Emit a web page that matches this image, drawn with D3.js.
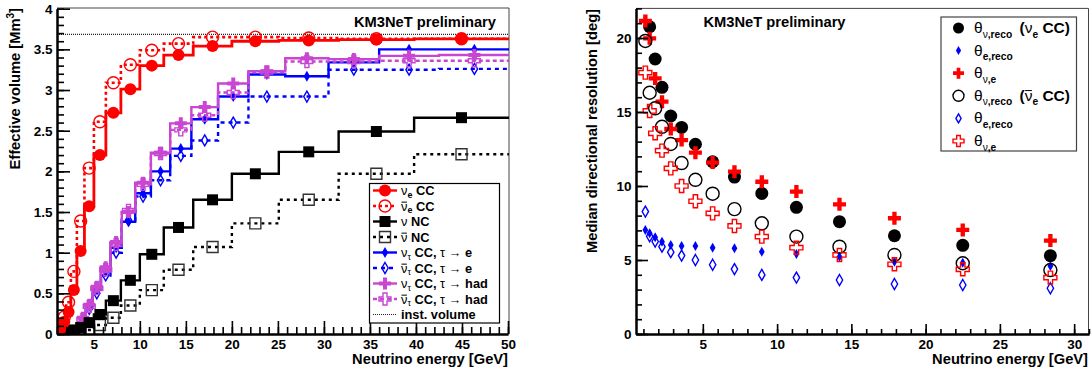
<!DOCTYPE html>
<html><head><meta charset="utf-8">
<script src="https://cdn.jsdelivr.net/npm/d3@7"></script>
<style>
body{margin:0;background:#fff}
svg{display:block}
text{font-family:"Liberation Sans",Arial,Helvetica,sans-serif;font-weight:bold;fill:#000}
</style>
</head><body>
<svg id="c" width="1091" height="370"></svg>
<script>
// ---------------- LEFT PANEL DATA (effective volume, Mm^3) ----------------
const eBinEdges = [1.00, 1.26, 1.58, 2.00, 2.51, 3.16, 3.98, 5.01, 6.31, 7.94, 10.0, 12.6, 15.8, 20.0, 25.1, 31.6, 39.8, 50.1];
const nueCC     = [0.02, 0.07, 0.15, 0.27, 0.54, 1.02, 1.57, 2.20, 2.72, 3.01, 3.30, 3.43, 3.54, 3.60, 3.61, 3.62, 3.63];
const nuebarCC  = [0.03, 0.10, 0.21, 0.39, 0.77, 1.39, 2.04, 2.61, 3.09, 3.31, 3.49, 3.57, 3.65, 3.65, 3.64, 3.63, 3.63];
const nuNC      = [0.00, 0.01, 0.02, 0.03, 0.05, 0.08, 0.14, 0.24, 0.41, 0.66, 0.98, 1.31, 1.65, 1.97, 2.24, 2.49, 2.66];
const nubarNC   = [0.00, 0.00, 0.00, 0.01, 0.01, 0.02, 0.05, 0.11, 0.20, 0.35, 0.54, 0.79, 1.07, 1.36, 1.65, 1.97, 2.21];
const tauBinEdges = [3.50, 4.13, 4.88, 5.77, 6.81, 8.04, 9.50, 11.2, 13.3, 15.6, 18.5, 21.8, 25.8, 30.5, 36.0, 42.5, 50.2];
const nutauE    = [0.18, 0.34, 0.55, 0.77, 1.06, 1.38, 1.73, 2.00, 2.28, 2.64, 2.92, 3.19, 3.17, 3.34, 3.50, 3.50];
const nutaubarE = [0.17, 0.31, 0.50, 0.72, 1.00, 1.40, 1.69, 1.89, 2.19, 2.38, 2.60, 2.92, 2.92, 3.25, 3.25, 3.26];
const nutauH    = [0.20, 0.36, 0.58, 0.82, 1.13, 1.50, 1.86, 2.23, 2.59, 2.79, 3.08, 3.23, 3.39, 3.38, 3.42, 3.43];
const nutaubarH = [0.18, 0.34, 0.56, 0.79, 1.10, 1.52, 1.84, 2.22, 2.51, 2.69, 2.97, 3.22, 3.35, 3.35, 3.36, 3.36];
const instVolume = 3.685;
const volTicksX = [5, 10, 15, 20, 25, 30, 35, 40, 45, 50];
const volTicksY = [0, 0.5, 1, 1.5, 2, 2.5, 3, 3.5, 4];

// ---------------- RIGHT PANEL DATA (median resolution, deg) ----------------
const resEnergy      = [1.13, 1.42, 1.79, 2.25, 2.84, 3.57, 4.50, 5.66, 7.13, 8.97, 11.3, 14.2, 17.9, 22.5, 28.4];
const thNuRecoNue    = [null, 20.76, 18.58, 16.67, 14.73, 13.96, 12.82, 11.64, 10.60, 9.50, 8.56, 7.59, 6.64, 5.99, 5.29];
const thERecoNue     = [7.03, 6.80, 6.53, 6.24, 6.01, 5.95, 5.95, 5.83, 5.79, 5.56, 5.41, 5.22, 4.89, 4.82, 4.59];
const thNuENue       = [21.15, 19.98, 17.27, 15.70, 13.85, 13.10, 12.25, 11.58, 10.97, 10.29, 9.62, 8.76, 7.82, 7.03, 6.31];
const thNuRecoNuebar = [19.80, 16.30, 15.25, 14.00, 12.84, 11.55, 10.42, 9.48, 8.44, 7.48, 6.58, 5.90, 5.34, 4.78, 4.32];
const thERecoNuebar  = [8.27, 6.60, 6.25, 5.90, 5.53, 5.30, 5.00, 4.68, 4.39, 3.99, 3.81, 3.65, 3.38, 3.31, 3.09];
const thNuENuebar    = [17.66, 15.07, 13.56, 12.39, 11.19, 10.00, 8.97, 8.15, 7.30, 6.58, 5.83, 5.34, 4.71, 4.37, 3.81];
const resTicksX = [5, 10, 15, 20, 25, 30];
const resTicksY = [0, 5, 10, 15, 20];

const RED = "#ff0000", BLUE = "#0000ff", MAG = "#c846d2", BLK = "#000000";
const svg = d3.select("#c");
svg.append("rect").attr("width", 1091).attr("height", 370).attr("fill", "#fff");

// marker helper
function marker(g, kind, x, y, color, sz) {
  let type, size, filled = true;
  switch (kind) {
    case "circleF": type = d3.symbolCircle; size = Math.PI * (sz/2) ** 2; break;
    case "circleO": type = d3.symbolCircle; size = Math.PI * (sz/2) ** 2; filled = false; break;
    case "squareF": type = d3.symbolSquare; size = sz * sz; break;
    case "squareO": type = d3.symbolSquare; size = sz * sz; filled = false; break;
    case "diamondF": type = d3.symbolDiamond; size = (sz/2) ** 2 * 2 * Math.tan(Math.PI/6); break;
    case "diamondO": type = d3.symbolDiamond; size = (sz/2) ** 2 * 2 * Math.tan(Math.PI/6); filled = false; break;
    case "crossF": type = d3.symbolCross; size = 20 * (sz/6) ** 2; break;
    case "crossO": type = d3.symbolCross; size = 20 * (sz/6) ** 2; filled = false; break;
  }
  const p = g.append("path").attr("d", d3.symbol(type, size)()).attr("transform", `translate(${x},${y})`);
  if (filled) p.attr("fill", color).attr("stroke", "none");
  else p.attr("fill", "none").attr("stroke", color).attr("stroke-width", 1.4);
  return p;
}

// rich text helper
function rich(g, x, y, parts, size, attrs, subShift) {
  const t = g.append("text").attr("x", x).attr("y", y).attr("font-size", size);
  if (attrs) Object.entries(attrs).forEach(([k, v]) => t.attr(k, v));
  let shift = 0;
  const ss = subShift == null ? 0.3 : subShift;
  parts.forEach(p => {
    const s = t.append("tspan").text(p.t);
    const target = p.sub ? size * ss : (p.sup ? -size * 0.38 : 0);
    if (target !== shift) { s.attr("dy", target - shift); shift = target; }
    if (p.sub || p.sup) s.attr("font-size", size * (p.scale || 0.7));
    if (p.greek) s.attr("font-weight", "normal");
  });
  return t;
}
function overlineChar(g, t, idx, size) {
  const ext = t.node().getExtentOfChar(idx);
  const yb = +t.attr("y");
  g.append("line").attr("x1", ext.x + 0.5).attr("x2", ext.x + ext.width - 0.5)
    .attr("y1", yb - size * 0.66).attr("y2", yb - size * 0.66)
    .attr("stroke", "#000").attr("stroke-width", 1);
}

// ======================= LEFT PANEL =======================
const L = { x0: 57, x1: 508, y0: 334, y1: 8.7 };
const xL = d3.scaleLinear().domain([1, 50]).range([L.x0, L.x1]);
const yL = d3.scaleLinear().domain([0, 4]).range([L.y0, L.y1]);
const gL = svg.append("g");
svg.append("clipPath").attr("id", "clipL").append("rect")
  .attr("x", L.x0).attr("y", 8).attr("width", 509 - L.x0).attr("height", L.y0 - 8);

// frame
gL.append("path").attr("d", `M${L.x0},8H509V${L.y0}`).attr("fill", "none").attr("stroke", "#444").attr("stroke-width", 1);

const plotL = gL.append("g").attr("clip-path", "url(#clipL)");
plotL.append("line").attr("x1", L.x0).attr("x2", 509).attr("y1", yL(instVolume)).attr("y2", yL(instVolume))
  .attr("stroke", "#222").attr("stroke-width", 1.2).attr("stroke-dasharray", "1,1");

function stepPath(edges, vals) {
  let d = `M${xL(edges[0])},${yL(0)}`;
  vals.forEach((v, i) => { d += `V${yL(v)}H${xL(edges[i + 1])}`; });
  return d;
}
const histSeries = [
  { edges: tauBinEdges, vals: nutaubarE, color: BLUE, dash: "4,4", mk: "diamondO", sz: 11, w: 2.4 },
  { edges: tauBinEdges, vals: nutauE, color: BLUE, dash: null, mk: "diamondF", sz: 11, w: 2.4 },
  { edges: tauBinEdges, vals: nutaubarH, color: MAG, dash: "4,3", mk: "crossO", sz: 12, w: 2.4 },
  { edges: tauBinEdges, vals: nutauH, color: MAG, dash: null, mk: "crossF", sz: 12, w: 2.4 },
  { edges: eBinEdges, vals: nubarNC, color: BLK, dash: "3,4", mk: "squareO", sz: 11, w: 2.4, mcol: "#333" },
  { edges: eBinEdges, vals: nuNC, color: BLK, dash: null, mk: "squareF", sz: 11, w: 2.4 },
  { edges: eBinEdges, vals: nuebarCC, color: RED, dash: "3,3", mk: "circleO", sz: 12, w: 2.6 },
  { edges: eBinEdges, vals: nueCC, color: RED, dash: null, mk: "circleF", sz: 12, w: 2.8 },
];
histSeries.forEach(s => {
  const p = plotL.append("path").attr("d", stepPath(s.edges, s.vals)).attr("fill", "none")
    .attr("stroke", s.color).attr("stroke-width", s.w);
  if (s.dash) p.attr("stroke-dasharray", s.dash);
  s.vals.forEach((v, i) => {
    const xc = (s.edges[i] + s.edges[i + 1]) / 2;
    marker(plotL, s.mk, xL(xc), yL(v), s.mcol || s.color, s.sz);
  });
});

// axes left
function styleAxis(g) {
  g.selectAll(".domain").attr("stroke", "#000").attr("stroke-width", 2);
  g.selectAll(".tick line").attr("stroke", "#000").attr("stroke-width", 1.6);
  g.selectAll("text").attr("font-family", '"Liberation Sans",Arial,sans-serif').attr("font-weight", "bold").attr("font-size", 13.5).attr("fill", "#000");
}
const minorLX = d3.range(1, 51);
const minorLY = d3.range(0, 41).map(d => d / 10);
gL.append("g").attr("transform", `translate(0,${L.y0})`)
  .call(d3.axisBottom(xL).tickValues(minorLX).tickSize(-7).tickSizeOuter(0).tickFormat(""))
  .call(styleAxis);
gL.append("g").attr("transform", `translate(0,${L.y0})`)
  .call(d3.axisBottom(xL).tickValues(volTicksX).tickSize(-13).tickSizeOuter(0).tickPadding(5).tickFormat(d3.format("d")))
  .call(styleAxis);
gL.append("g").attr("transform", `translate(${L.x0},0)`)
  .call(d3.axisLeft(yL).tickValues(minorLY).tickSize(-7).tickSizeOuter(0).tickFormat(""))
  .call(styleAxis);
gL.append("g").attr("transform", `translate(${L.x0},0)`)
  .call(d3.axisLeft(yL).tickValues(volTicksY).tickSize(-13).tickSizeOuter(0).tickPadding(4.5).tickFormat(d => String(d)))
  .call(styleAxis);

// titles
gL.append("text").attr("x", 508).attr("y", 364).attr("text-anchor", "end").attr("font-size", 14.7).text("Neutrino energy [GeV]");
rich(gL, 0, 0, [{ t: "Effective volume [Mm" }, { t: "3", sup: true, scale: 0.68 }, { t: "]" }], 14.7,
  { "text-anchor": "end", transform: "translate(20,8) rotate(-90)" });
gL.append("text").attr("x", 496).attr("y", 26.5).attr("text-anchor", "end").attr("font-size", 14.7).text("KM3NeT preliminary");

// legend left
const lg = gL.append("g");
lg.append("rect").attr("x", 369.5).attr("y", 183.5).attr("width", 130).attr("height", 139.5)
  .attr("fill", "#fff").attr("stroke", "#000").attr("stroke-width", 1.2);
const legL = [
  { color: RED, dash: null, mk: "circleF", parts: [{ t: "ν", greek: 1 }, { t: "e", sub: 1 }, { t: " CC" }], bar: false },
  { color: RED, dash: "3,3", mk: "circleO", parts: [{ t: "ν", greek: 1 }, { t: "e", sub: 1 }, { t: " CC" }], bar: true },
  { color: BLK, dash: null, mk: "squareF", parts: [{ t: "ν", greek: 1 }, { t: " NC" }], bar: false },
  { color: BLK, dash: "3,4", mk: "squareO", parts: [{ t: "ν", greek: 1 }, { t: " NC" }], bar: true, mcol: "#333" },
  { color: BLUE, dash: null, mk: "diamondF", parts: [{ t: "ν", greek: 1 }, { t: "τ", sub: 1, greek: 1 }, { t: " CC, " }, { t: "τ", greek: 1 }, { t: " → ", greek: 1 }, { t: "e" }], bar: false },
  { color: BLUE, dash: "4,4", mk: "diamondO", parts: [{ t: "ν", greek: 1 }, { t: "τ", sub: 1, greek: 1 }, { t: " CC, " }, { t: "τ", greek: 1 }, { t: " → ", greek: 1 }, { t: "e" }], bar: true },
  { color: MAG, dash: null, mk: "crossF", parts: [{ t: "ν", greek: 1 }, { t: "τ", sub: 1, greek: 1 }, { t: " CC, " }, { t: "τ", greek: 1 }, { t: " → ", greek: 1 }, { t: "had" }], bar: false },
  { color: MAG, dash: "4,3", mk: "crossO", parts: [{ t: "ν", greek: 1 }, { t: "τ", sub: 1, greek: 1 }, { t: " CC, " }, { t: "τ", greek: 1 }, { t: " → ", greek: 1 }, { t: "had" }], bar: true },
  { color: "#222", dash: "1,1", mk: null, parts: [{ t: "inst. volume" }], bar: false, thin: true },
];
legL.forEach((e, i) => {
  const yc = 190.5 + i * 15.5;
  const ln = lg.append("line").attr("x1", 373).attr("x2", 397).attr("y1", yc).attr("y2", yc)
    .attr("stroke", e.color).attr("stroke-width", e.thin ? 1.2 : 2.4);
  if (e.dash) ln.attr("stroke-dasharray", e.dash);
  if (e.mk) marker(lg, e.mk, 385, yc, e.mcol || e.color, e.mk.startsWith("diamond") ? 11 : (e.mk.startsWith("square") ? 11 : 12));
  const t = rich(lg, 401, yc + 4.6, e.parts, 12.8, null, 0.22);
  if (e.bar) overlineChar(lg, t, 0, 12.8);
});

// ======================= RIGHT PANEL =======================
const R = { x0: 636, x1: 1089, y0: 334, y1: 8.4 };
const xR = d3.scaleLinear().domain([0.5, 31]).range([R.x0, R.x1]);
const yR = d3.scaleLinear().domain([0, 22]).range([R.y0, R.y1]);
const gR = svg.append("g");
gR.append("path").attr("d", `M${R.x0},8.4H1088.5V${R.y0}`).attr("fill", "none").attr("stroke", "#444").attr("stroke-width", 1);

const ptSeries = [
  { vals: thNuRecoNue, mk: "circleF", color: BLK, sz: 13 },
  { vals: thERecoNue, mk: "diamondF", color: BLUE, sz: 10 },
  { vals: thNuENue, mk: "crossF", color: RED, sz: 13 },
  { vals: thNuRecoNuebar, mk: "circleO", color: BLK, sz: 13 },
  { vals: thERecoNuebar, mk: "diamondO", color: BLUE, sz: 11 },
  { vals: thNuENuebar, mk: "crossO", color: RED, sz: 13 },
];
ptSeries.forEach(s => {
  s.vals.forEach((v, i) => {
    if (v == null) return;
    marker(gR, s.mk, xR(resEnergy[i]), yR(v), s.color, s.sz);
  });
});

const minorRX = d3.range(1, 32);
const minorRY = d3.range(0, 23);
gR.append("g").attr("transform", `translate(0,${R.y0})`)
  .call(d3.axisBottom(xR).tickValues(minorRX).tickSize(-5).tickSizeOuter(0).tickFormat(""))
  .call(styleAxis);
gR.append("g").attr("transform", `translate(0,${R.y0})`)
  .call(d3.axisBottom(xR).tickValues(resTicksX).tickSize(-10).tickSizeOuter(0).tickPadding(5).tickFormat(d3.format("d")))
  .call(styleAxis);
gR.append("g").attr("transform", `translate(${R.x0},0)`)
  .call(d3.axisLeft(yR).tickValues(minorRY).tickSize(-6).tickSizeOuter(0).tickFormat(""))
  .call(styleAxis);
gR.append("g").attr("transform", `translate(${R.x0},0)`)
  .call(d3.axisLeft(yR).tickValues(resTicksY).tickSize(-12).tickSizeOuter(0).tickPadding(4.5).tickFormat(d3.format("d")))
  .call(styleAxis);

gR.append("text").attr("x", 1088).attr("y", 364).attr("text-anchor", "end").attr("font-size", 14.7).text("Neutrino energy [GeV]");
gR.append("text").attr("text-anchor", "end").attr("font-size", 14.7)
  .attr("transform", "translate(597,9) rotate(-90)").text("Median directional resolution  [deg]");
gR.append("text").attr("x", 703.5).attr("y", 26.5).attr("font-size", 14.7).text("KM3NeT preliminary");

// legend right
const lgR = gR.append("g");
lgR.append("rect").attr("x", 941).attr("y", 17).attr("width", 135.5).attr("height", 134)
  .attr("fill", "#fff").attr("stroke", "#444").attr("stroke-width", 1.2);
const legR = [
  { mk: "circleF", color: BLK, sz: 11, sub: "reco", extra: "e" },
  { mk: "diamondF", color: BLUE, sz: 9, sub: "e,reco" },
  { mk: "crossF", color: RED, sz: 11, sub: "ν,e" },
  { mk: "circleO", color: BLK, sz: 11, sub: "reco", extra: "ebar" },
  { mk: "diamondO", color: BLUE, sz: 9, sub: "e,reco" },
  { mk: "crossO", color: RED, sz: 11, sub: "ν,e" },
];
legR.forEach((e, i) => {
  const yc = 28 + i * 22.6;
  marker(lgR, e.mk, 958.5, yc, e.color, e.sz);
  let parts;
  if (e.sub === "reco") parts = [{ t: "θ", greek: 1 }, { t: "ν", sub: 1, greek: 1, scale: 0.66 }, { t: ",reco", sub: 1, scale: 0.66 }];
  else if (e.sub === "ν,e") parts = [{ t: "θ", greek: 1 }, { t: "ν", sub: 1, greek: 1, scale: 0.66 }, { t: ",e", sub: 1, scale: 0.66 }];
  else parts = [{ t: "θ", greek: 1 }, { t: "e,reco", sub: 1, scale: 0.66 }];
  rich(lgR, 974, yc + 5, parts, 15.5);
  if (e.extra) {
    const t = rich(lgR, 1019.5, yc + 5, [{ t: "(" }, { t: "ν", greek: 1 }, { t: "e", sub: 1, scale: 0.66 }, { t: " CC)" }], 15.5);
    if (e.extra === "ebar") overlineChar(lgR, t, 1, 15.5);
  }
});
</script>
</body></html>
